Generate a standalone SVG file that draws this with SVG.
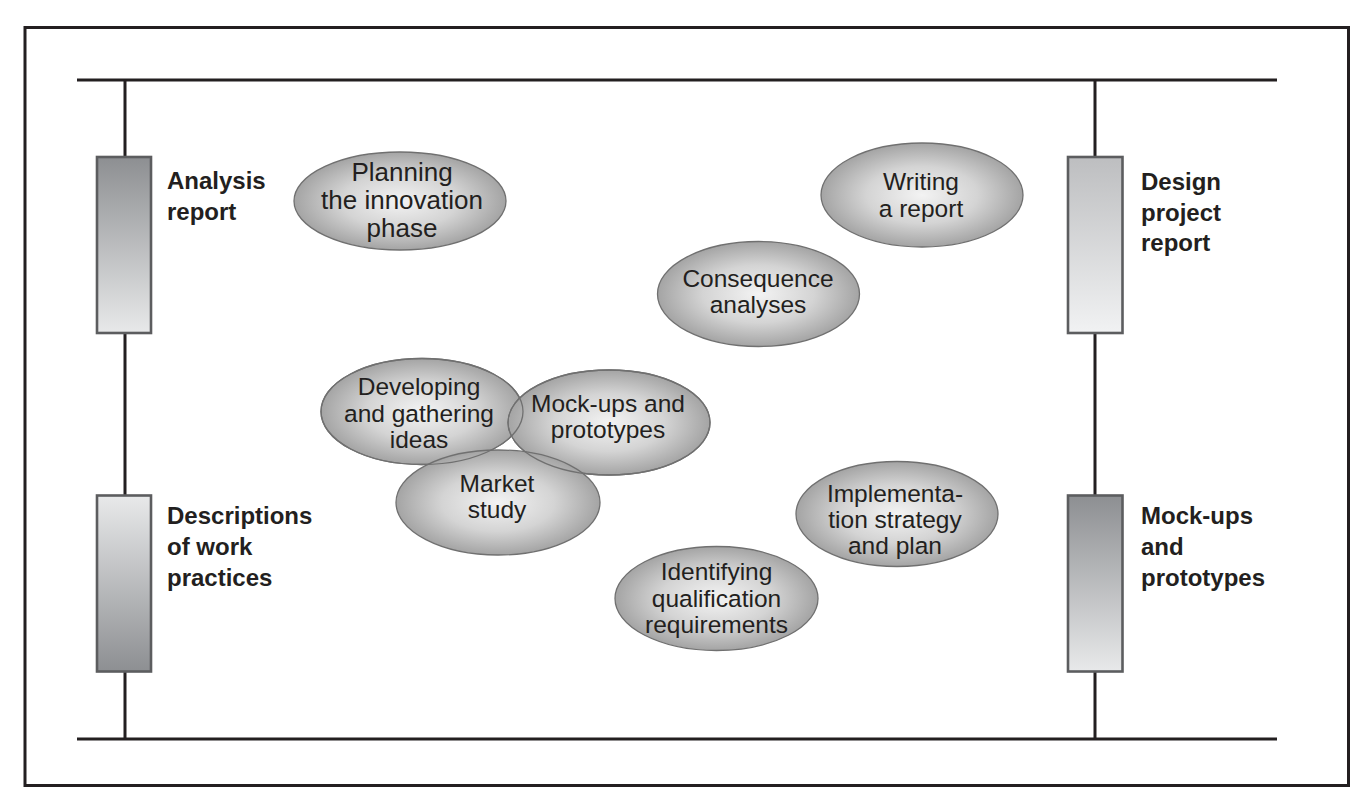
<svg xmlns="http://www.w3.org/2000/svg" width="1364" height="804" viewBox="0 0 1364 804">
<defs>
<radialGradient id="gEll" cx="50%" cy="50%" r="50%">
<stop offset="0" stop-color="#f3f3f3"/>
<stop offset="0.55" stop-color="#d4d4d4"/>
<stop offset="1" stop-color="#a4a4a4"/>
</radialGradient>
<linearGradient id="gDarkTop" x1="0" y1="0" x2="0" y2="1">
<stop offset="0" stop-color="#8d8f92"/>
<stop offset="1" stop-color="#e8e9ea"/>
</linearGradient>
<linearGradient id="gDarkBot" x1="0" y1="0" x2="0" y2="1">
<stop offset="0" stop-color="#e8e9ea"/>
<stop offset="1" stop-color="#8d8f92"/>
</linearGradient>
<linearGradient id="gLight" x1="0" y1="0" x2="0" y2="1">
<stop offset="0" stop-color="#bdbec0"/>
<stop offset="1" stop-color="#f1f2f3"/>
</linearGradient>
</defs>
<style>
.frame{fill:none;stroke:#231f20;stroke-width:3}
.ln{stroke:#231f20;stroke-width:3;fill:none}
.bar{stroke:#5c5d5f;stroke-width:2.6}
.ell{fill:url(#gEll);stroke:#707070;stroke-width:1.3}
.outl{fill:none;stroke:#707070;stroke-width:1.3}
.lbl{font-family:"Liberation Sans",Arial,sans-serif;font-weight:bold;font-size:24px;fill:#231f20}
.t{font-family:"Liberation Sans",Arial,sans-serif;font-size:24.5px;fill:#231f20;text-anchor:middle}
</style>
<rect width="1364" height="804" fill="#ffffff"/>
<rect class="frame" x="25" y="27.5" width="1323.5" height="758"/>
<g id="connectors">
<line class="ln" x1="77" y1="80" x2="1277" y2="80"/>
<line class="ln" x1="77" y1="739" x2="1277" y2="739"/>
<line class="ln" x1="125" y1="80" x2="125" y2="739"/>
<line class="ln" x1="1095" y1="80" x2="1095" y2="739"/>
</g>
<g id="analysis-report">
<rect class="bar" x="97" y="157" width="54" height="176" fill="url(#gDarkTop)"/>
<text class="lbl" x="167" y="189">Analysis</text>
<text class="lbl" x="167" y="219.5">report</text>
</g>
<g id="descriptions">
<rect class="bar" x="97" y="495.5" width="54" height="176" fill="url(#gDarkBot)"/>
<text class="lbl" x="167" y="524">Descriptions</text>
<text class="lbl" x="167" y="555">of work</text>
<text class="lbl" x="167" y="585.5">practices</text>
</g>
<g id="design-project-report">
<rect class="bar" x="1068" y="157" width="54.5" height="176" fill="url(#gLight)"/>
<text class="lbl" x="1141" y="190">Design</text>
<text class="lbl" x="1141" y="220.5">project</text>
<text class="lbl" x="1141" y="251">report</text>
</g>
<g id="mockups-bar">
<rect class="bar" x="1068" y="495.5" width="54.5" height="176" fill="url(#gDarkTop)"/>
<text class="lbl" x="1141" y="524">Mock-ups</text>
<text class="lbl" x="1141" y="555">and</text>
<text class="lbl" x="1141" y="585.5">prototypes</text>
</g>
<g id="planning">
<ellipse class="ell" cx="400" cy="201" rx="106" ry="49"/>
<text class="t" x="402" y="181" style="font-size:26px">Planning</text>
<text class="t" x="402" y="209" style="font-size:26px">the innovation</text>
<text class="t" x="402" y="237" style="font-size:26px">phase</text>
</g>
<g id="writing">
<ellipse class="ell" cx="922" cy="195" rx="101" ry="52"/>
<text class="t" x="921" y="190">Writing</text>
<text class="t" x="921" y="217">a report</text>
</g>
<g id="consequence">
<ellipse class="ell" cx="758.5" cy="294" rx="101" ry="52.5"/>
<text class="t" x="758" y="287">Consequence</text>
<text class="t" x="758" y="313">analyses</text>
</g>
<g id="developing">
<ellipse class="ell" cx="422" cy="411.5" rx="101" ry="53"/>
<text class="t" x="419" y="395">Developing</text>
<text class="t" x="419" y="421.5">and gathering</text>
<text class="t" x="419" y="448">ideas</text>
</g>
<g id="mockups">
<ellipse class="ell" cx="609" cy="422.5" rx="101" ry="52.5"/>
<text class="t" x="608" y="411.5">Mock-ups and</text>
<text class="t" x="608" y="438">prototypes</text>
</g>
<g id="market">
<ellipse class="ell" cx="498" cy="502.5" rx="102" ry="52.5"/>
<text class="t" x="497" y="491.5">Market</text>
<text class="t" x="497" y="518">study</text>
</g>
<g id="overlap-outlines">
<ellipse class="outl" cx="422" cy="411.5" rx="101" ry="53"/>
<ellipse class="outl" cx="609" cy="422.5" rx="101" ry="52.5"/>
</g>
<g id="implementation">
<ellipse class="ell" cx="897" cy="514" rx="101" ry="52.5"/>
<text class="t" x="895" y="501.5">Implementa-</text>
<text class="t" x="895" y="527.5">tion strategy</text>
<text class="t" x="895" y="553.5">and plan</text>
</g>
<g id="identifying">
<ellipse class="ell" cx="716.5" cy="598.5" rx="101.5" ry="52"/>
<text class="t" x="716.5" y="580">Identifying</text>
<text class="t" x="716.5" y="606.5">qualification</text>
<text class="t" x="716.5" y="632.5">requirements</text>
</g>
</svg>
